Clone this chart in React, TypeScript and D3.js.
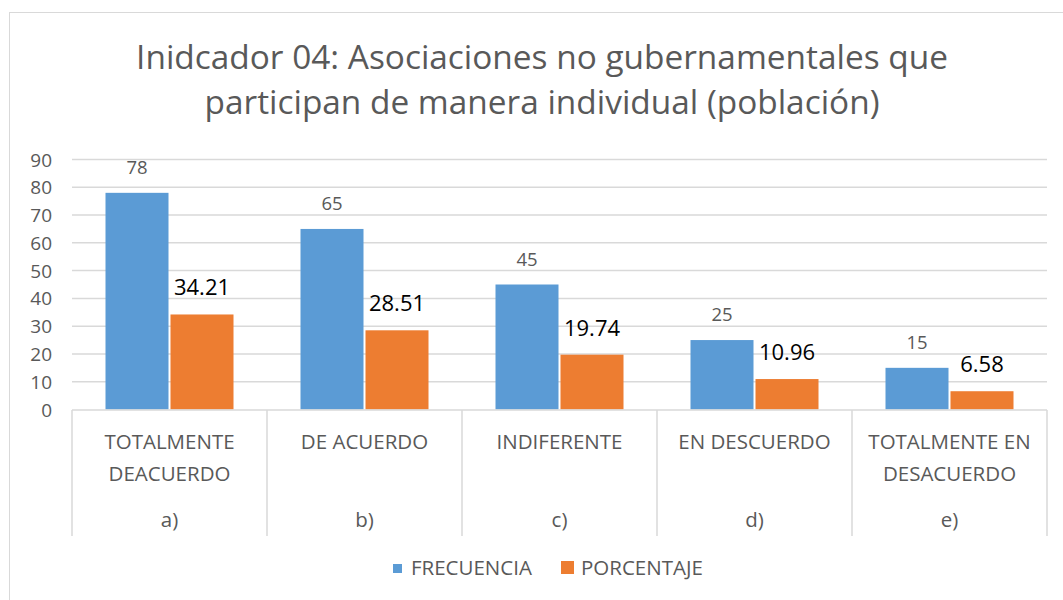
import React from "react";
import * as d3 from "d3";

const categories = ["TOTALMENTE DEACUERDO", "DE ACUERDO", "INDIFERENTE", "EN DESCUERDO", "TOTALMENTE EN DESACUERDO"];
const categoryLines = [["TOTALMENTE", "DEACUERDO"], ["DE ACUERDO"], ["INDIFERENTE"], ["EN DESCUERDO"], ["TOTALMENTE EN", "DESACUERDO"]];
const groups = ["a)", "b)", "c)", "d)", "e)"];
const frecuencia = [78, 65, 45, 25, 15];
const porcentaje = [34.21, 28.51, 19.74, 10.96, 6.58];
const yTicks = [0, 10, 20, 30, 40, 50, 60, 70, 80, 90];
const seriesNames = ["FRECUENCIA", "PORCENTAJE"];
const titleLines = ["Inidcador 04: Asociaciones no gubernamentales que", "participan de manera individual (población)"];

const W = 1063, H = 600;
const FONT = "'Open Sans', sans-serif";
const BLUE = "#5B9BD5", ORANGE = "#ED7D31", GRID = "#D9D9D9", TXT = "#595959";

export default function App() {
  const x = d3.scaleBand().domain(categories).range([72, 1047]).paddingInner(0).paddingOuter(0);
  const y = d3.scaleLinear().domain([0, 90]).range([409.5, 159.5]);
  const bw = x.bandwidth();
  const barW = 63;
  const gap = 2;
  const groupW = barW * 2 + gap;
  const off = (bw - groupW) / 2;

  return (
    <svg width={W} height={H} style={{ position: "absolute", left: 0, top: 0 }} fontFamily={FONT}>
      <rect x={0} y={0} width={W} height={H} fill="#fff" />
      <rect x={9.5} y={12.5} width={W + 10} height={H + 10} fill="none" stroke={GRID} strokeWidth={1} />
      {titleLines.map((t, i) => (
        <text key={i} x={542} y={69 + i * 45} textAnchor="middle" fontSize={33.4} fill={TXT}>{t}</text>
      ))}
      {yTicks.map((t) => (
        <g key={t}>
          {t > 0 && <line x1={72} x2={1047} y1={y(t)} y2={y(t)} stroke={GRID} strokeWidth={1.5} />}
          <text x={52} y={y(t) + 7} textAnchor="end" fontSize={19} fill={TXT}>{t}</text>
        </g>
      ))}
      {categories.map((c, i) => {
        const x0 = (x(c) as number) + off;
        return (
          <g key={c}>
            <rect x={x0} y={y(frecuencia[i])} width={barW} height={y(0) - y(frecuencia[i])} fill={BLUE} />
            <rect x={x0 + barW + gap} y={y(porcentaje[i])} width={barW} height={y(0) - y(porcentaje[i])} fill={ORANGE} />
            <text x={x0 + barW / 2} y={y(frecuencia[i]) - 19} textAnchor="middle" fontSize={18.5} fill={TXT}>{frecuencia[i]}</text>
            <text x={x0 + barW + gap + barW / 2} y={y(porcentaje[i]) - 19} textAnchor="middle" fontSize={22} fill="#000">{porcentaje[i].toFixed(2)}</text>
          </g>
        );
      })}
      <line x1={72} x2={1047} y1={410} y2={410} stroke={GRID} strokeWidth={1.5} />
      {d3.range(categories.length + 1).map((i) => {
        const xx = 72 + i * bw;
        return <line key={i} x1={xx} x2={xx} y1={410} y2={536} stroke={GRID} strokeWidth={1.5} />;
      })}
      {categories.map((c, i) => {
        const cx = (x(c) as number) + bw / 2;
        return (
          <g key={c}>
            {categoryLines[i].map((l, j) => (
              <text key={j} x={cx} y={449 + j * 32} textAnchor="middle" fontSize={20.5} fill={TXT}>{l}</text>
            ))}
            <text x={cx} y={527} textAnchor="middle" fontSize={20.5} fill={TXT}>{groups[i]}</text>
          </g>
        );
      })}
      <rect x={393} y={564} width={9} height={9} fill={BLUE} />
      <text x={411} y={575} fontSize={20.5} fill={TXT}>{seriesNames[0]}</text>
      <rect x={561} y={561} width={13} height={13} fill={ORANGE} />
      <text x={581} y={575} fontSize={20.5} fill={TXT}>{seriesNames[1]}</text>
    </svg>
  );
}
